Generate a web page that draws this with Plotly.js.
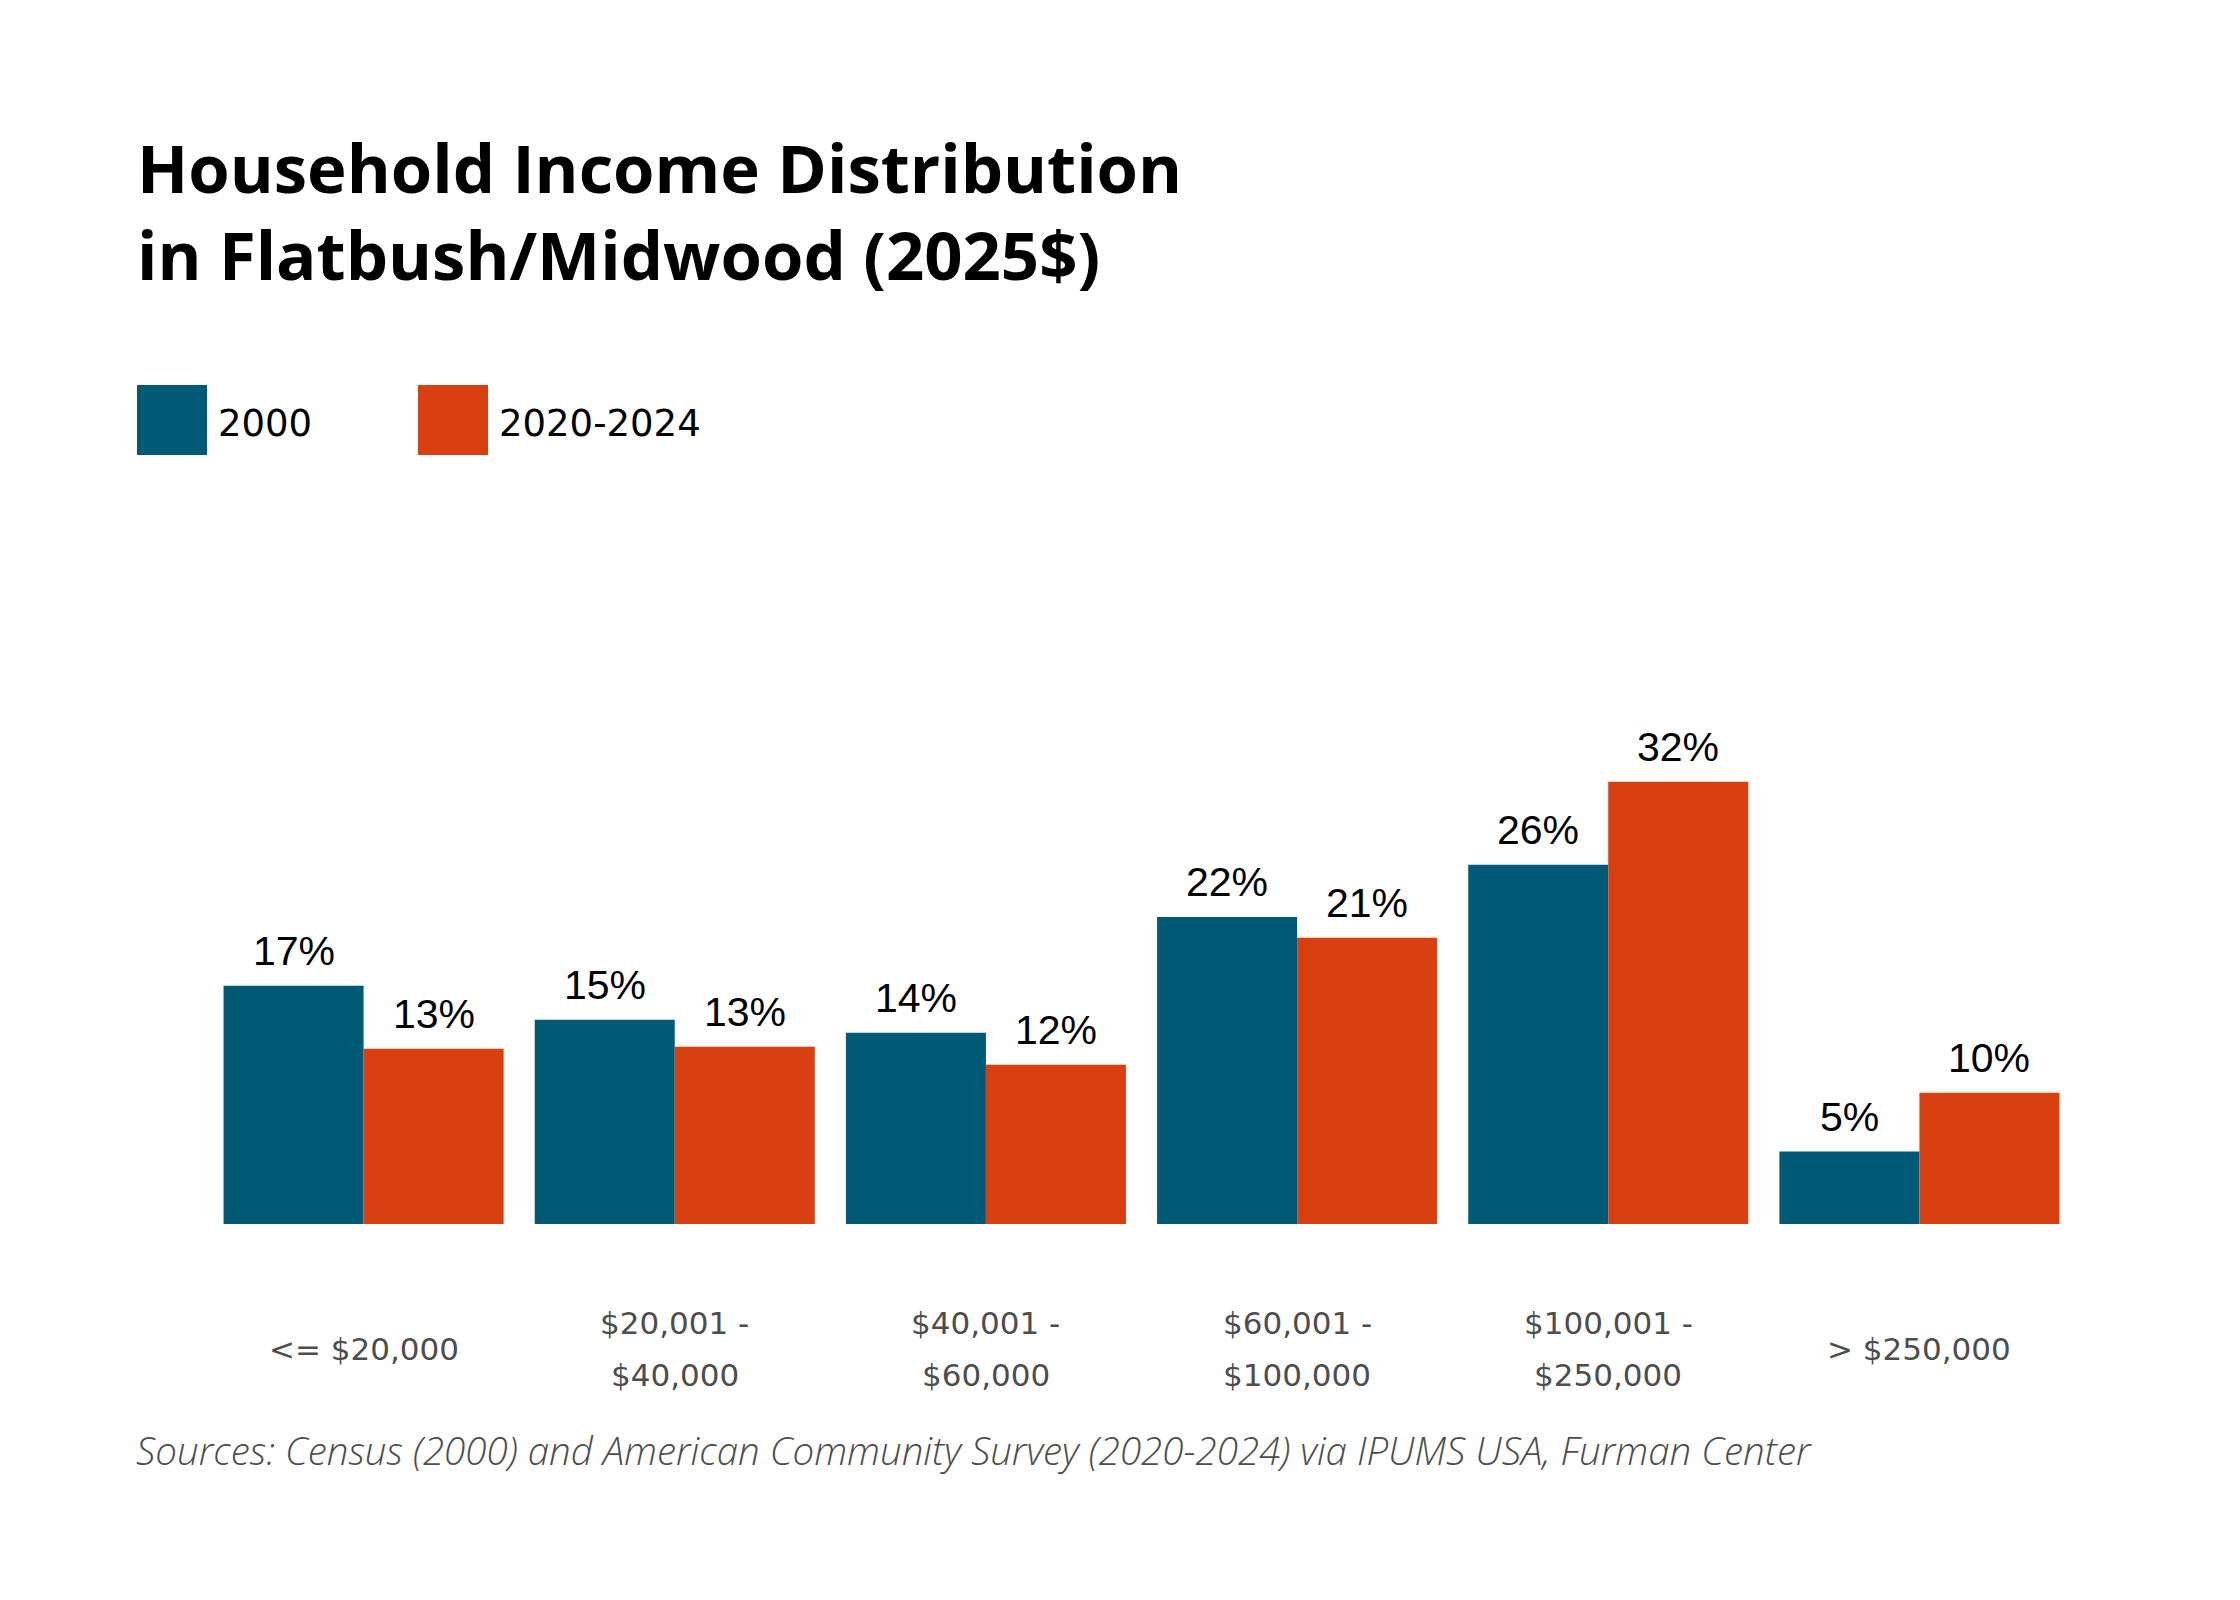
<!DOCTYPE html>
<html>
<head>
<meta charset="utf-8">
<script src="https://cdn.plot.ly/plotly-3.0.1.min.js"></script>
<style>
  html, body { margin: 0; padding: 0; background: #fff; }
  #chart { width: 2240px; height: 1600px; }
</style>
</head>
<body>
<div id="chart"></div>
<script>
// data (percent of households)
const categories = ['<= $20,000', '$20,001 -<br>$40,000', '$40,001 -<br>$60,000',
  '$60,001 -<br>$100,000', '$100,001 -<br>$250,000', '> $250,000'];
const seriesNames = ['2000', '2020-2024'];
const values2000 = [17.36, 14.88, 13.93, 22.38, 26.18, 5.28];
const values2024 = [12.77, 12.91, 11.60, 20.86, 32.23, 9.56];

const BLUE = '#005a75';
const ORANGE = '#d84012';
const GREY = '#4d4d4d';

// plot box in pixels
const W = 2240, H = 1600;
const M = { l: 208, r: 165, t: 730, b: 376 };
const plotW = W - M.l - M.r, plotH = H - M.t - M.b;
const px2x = px => (px - M.l) / plotW;
const px2y = py => (H - M.b - py) / plotH;
const BARGAP = 0.1;
const barW = plotW / categories.length * (1 - BARGAP) / 2;

const traces = [
  { type: 'bar', name: seriesNames[0], x: categories, y: values2000, marker: { color: BLUE }, hoverinfo: 'skip' },
  { type: 'bar', name: seriesNames[1], x: categories, y: values2024, marker: { color: ORANGE }, hoverinfo: 'skip' }
];

const annotations = [];

// value labels above each bar
const labelFont = { family: 'Liberation Sans, Arial, sans-serif', size: 41, color: '#000' };
[values2000, values2024].forEach((vals, s) => {
  vals.forEach((v, i) => {
    annotations.push({
      x: categories[i], y: v, xref: 'x', yref: 'y', text: Math.round(v) + '%',
      showarrow: false, xanchor: 'center', yanchor: 'bottom',
      xshift: (s === 0 ? -1 : 1) * barW / 2, yshift: 10, font: labelFont
    });
  });
});

// category labels, one annotation per line so the spacing matches
const tickFont = { family: 'DejaVu Sans, sans-serif', size: 31, color: GREY };
categories.forEach(c => {
  const lines = c.split('<br>');
  const shifts = lines.length === 1 ? [-125] : [-99, -151];
  lines.forEach((ln, i) => {
    annotations.push({
      x: c, y: 0, xref: 'x', yref: 'y', text: ln, showarrow: false,
      yshift: shifts[i], xanchor: 'center', yanchor: 'middle', font: tickFont
    });
  });
});

// legend
const legendItems = [
  { name: seriesNames[0], color: BLUE, x0: 137, tx: 216 },
  { name: seriesNames[1], color: ORANGE, x0: 418, tx: 497 }
];
const shapes = legendItems.map(it => ({
  type: 'rect', xref: 'paper', yref: 'paper',
  x0: px2x(it.x0), x1: px2x(it.x0 + 70), y0: px2y(455), y1: px2y(385),
  fillcolor: it.color, line: { width: 0 }
}));
legendItems.forEach(it => {
  annotations.push({
    xref: 'paper', yref: 'paper', x: px2x(it.tx), y: px2y(423), text: it.name,
    showarrow: false, xanchor: 'left', yanchor: 'middle',
    font: { family: 'DejaVu Sans, sans-serif', size: 37, color: '#000' }
  });
});

// source note
annotations.push({
  xref: 'paper', yref: 'paper', x: px2x(134), y: px2y(1450),
  text: 'Sources: Census (2000) and American Community Survey (2020-2024) via IPUMS USA, Furman Center',
  showarrow: false, xanchor: 'left', yanchor: 'middle',
  font: { family: 'Open Sans, sans-serif', size: 38.5, weight: 300, style: 'italic', color: GREY }
});

const layout = {
  width: W, height: H,
  margin: M,
  paper_bgcolor: '#fff', plot_bgcolor: '#fff',
  showlegend: false,
  barmode: 'group', bargap: BARGAP, bargroupgap: 0,
  title: {
    text: 'Household Income Distribution<br>in Flatbush/Midwood (2025$)',
    x: 137 / W, xref: 'container', xanchor: 'left',
    y: 1 - 193 / H, yref: 'container', yanchor: 'top',
    font: { family: 'Open Sans, sans-serif', size: 67, weight: 700, color: '#000' }
  },
  xaxis: { type: 'category', showticklabels: false, showgrid: false, zeroline: false, showline: false, ticks: '' },
  yaxis: { range: [0, 36], visible: false, showgrid: false, zeroline: false },
  shapes: shapes,
  annotations: annotations
};

Plotly.newPlot('chart', traces, layout, { displayModeBar: false, staticPlot: true });
</script>
</body>
</html>
